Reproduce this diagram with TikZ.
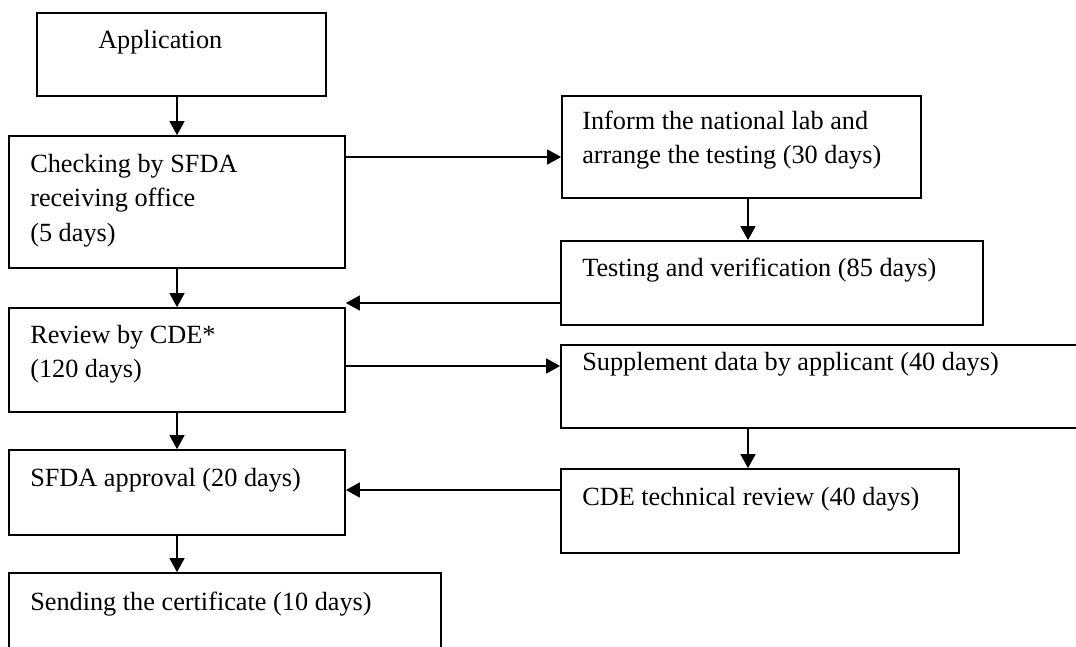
\documentclass[tikz,border=0pt]{standalone}
\usepackage{fontspec}
\setmainfont{Liberation Serif}
\usetikzlibrary{arrows.meta,fit}
\begin{document}
\begin{tikzpicture}[x=0.75pt,y=-0.75pt,
  box/.style={draw=black, line width=1.2pt, inner sep=0pt},
  txt/.style={anchor=north west, inner sep=0pt, align=left,
    font=\fontsize{19.7pt}{25.9pt}\selectfont},
  arr/.style={line width=1.7pt, -{Triangle[length=10.5pt,width=11pt]}}]
\useasboundingbox (0,0) rectangle (1076,647);
\fill[white] (0,0) rectangle (1076,647);
\clip (0,0) rectangle (1076,647);
% boxes
\node[box, fit={(37,13) (326,96)}] (app) {};
\node[box, fit={(9,136) (345,268)}] (check) {};
\node[box, fit={(562,96) (921,198)}] (inform) {};
\node[box, fit={(561,241) (983,325)}] (testing) {};
\node[box, fit={(9,308) (345,412)}] (review) {};
\node[box, fit={(561,345) (1095,428)}] (supp) {};
\node[box, fit={(9,450) (345,535)}] (approval) {};
\node[box, fit={(561,469) (959,553)}] (cde) {};
\node[box, fit={(9,573) (441,670)}] (sending) {};
% texts
\node[txt] (tapp) at (98,23.8) {\strut Application};
\node[txt] (tcheck) at (30,147.8) {\strut Checking by SFDA\\receiving office\\(5 days)};
\node[txt] (tinform) at (582,104.8) {\strut Inform the national lab and\\arrange the testing (30 days)};
\node[txt] (ttesting) at (582,251.8) {\strut Testing and verification (85 days)};
\node[txt] (treview) at (30,318.8) {\strut Review by CDE*\\(120 days)};
\node[txt] (tsupp) at (582,345.8) {\strut Supplement data by applicant (40 days)};
\node[txt] (tapproval) at (30,461.8) {\strut SFDA approval (20 days)};
\node[txt] (tcde) at (582,480.8) {\strut CDE technical review (40 days)};
\node[txt] (tsending) at (30,585.8) {\strut Sending the certificate (10 days)};
% helper coordinates
\coordinate (xr) at (748,0);
\coordinate (y1) at (0,157);
\coordinate (y2) at (0,303);
\coordinate (y3) at (0,366);
\coordinate (y4) at (0,490);
% connectors
\draw[arr] (check.north |- app.south) -- (check.north);
\draw[arr] (check.east |- y1) -- (inform.west |- y1);
\draw[arr] (inform.south -| xr) -- (testing.north -| xr);
\draw[arr] (testing.west |- y2) -- (review.east |- y2);
\draw[arr] (check.south) -- (review.north);
\draw[arr] (review.east |- y3) -- (supp.west |- y3);
\draw[arr] (supp.south -| xr) -- (cde.north -| xr);
\draw[arr] (cde.west |- y4) -- (approval.east |- y4);
\draw[arr] (review.south) -- (approval.north);
\draw[arr] (approval.south) -- (approval.south |- sending.north);
\end{tikzpicture}
\end{document}
